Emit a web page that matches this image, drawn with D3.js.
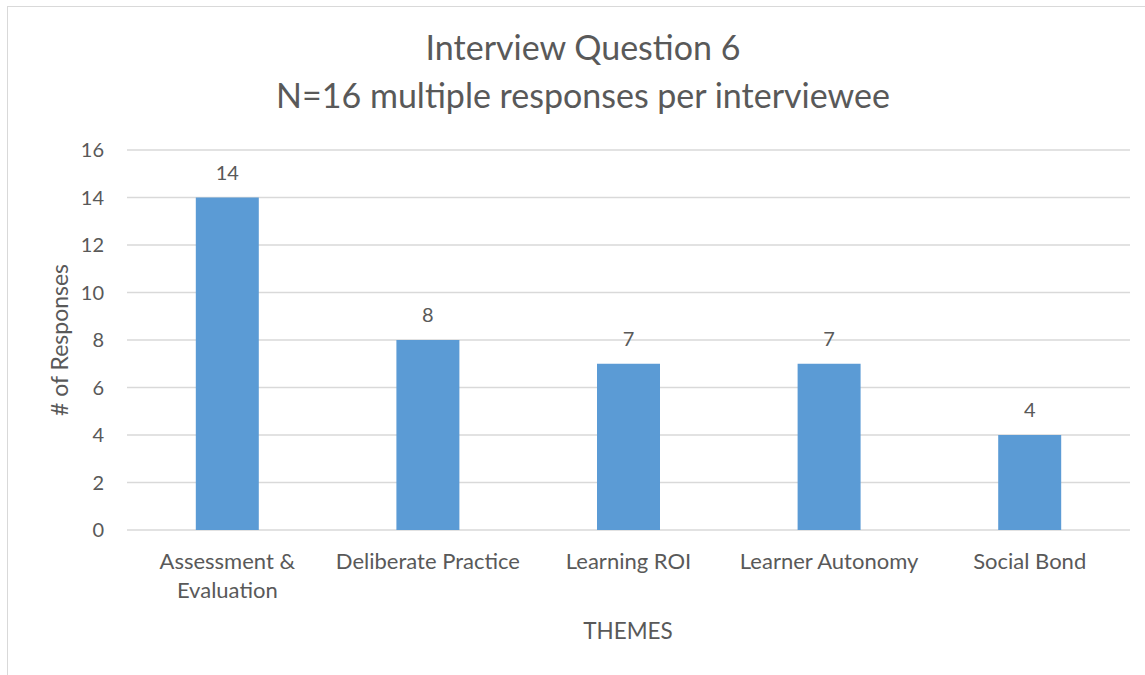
<!DOCTYPE html>
<html>
  <head>
    <meta charset="utf-8">
    <title>Interview Question 6</title>
    <style>
      body { margin: 0; background: #fff; }
      text { font-family: Lato, 'Open Sans', sans-serif; fill: #595959; }
      .grid line { stroke: #d9d9d9; stroke-width: 1.5; }
    </style>
  </head>
  <body>
    <div id="chart"></div>
    <script src="https://cdn.jsdelivr.net/npm/d3@7/dist/d3.min.js"></script>
    <script>
      // data
      var themes = [['Assessment &', 'Evaluation'], ['Deliberate Practice'], ['Learning ROI'], ['Learner Autonomy'], ['Social Bond']];
      var responses = [14, 8, 7, 7, 4];
      var yTicks = [0, 2, 4, 6, 8, 10, 12, 14, 16];
      var titleLines = ['Interview Question 6', 'N=16 multiple responses per interviewee'];

      var width = 1145, height = 675;
      var margin = {top: 150, right: 15, bottom: 145, left: 127};

      var svg = d3.select('#chart').append('svg')
        .attr('width', width)
        .attr('height', height);

      // chart border
      svg.append('rect')
        .attr('x', 7.5).attr('y', 6.5)
        .attr('width', width + 10).attr('height', height + 10)
        .attr('fill', 'none')
        .attr('stroke', '#d9d9d9');

      var x = d3.scaleBand()
        .domain(d3.range(themes.length))
        .range([margin.left, width - margin.right])
        .paddingInner(0.686)
        .paddingOuter(0.343);

      var y = d3.scaleLinear()
        .domain([0, 16])
        .range([height - margin.bottom, margin.top]);

      // gridlines
      svg.append('g').attr('class', 'grid')
        .selectAll('line')
        .data(yTicks)
        .enter().append('line')
        .attr('x1', margin.left)
        .attr('x2', width - margin.right)
        .attr('y1', function(d) { return y(d); })
        .attr('y2', function(d) { return y(d); });

      // y tick labels
      svg.append('g')
        .selectAll('text')
        .data(yTicks)
        .enter().append('text')
        .attr('x', 104)
        .attr('y', function(d) { return y(d); })
        .attr('dy', '0.36em')
        .attr('text-anchor', 'end')
        .style('font-size', '20px')
        .text(function(d) { return d; });

      // bars
      svg.append('g')
        .selectAll('rect')
        .data(responses)
        .enter().append('rect')
        .attr('x', function(d, i) { return x(i); })
        .attr('width', x.bandwidth())
        .attr('y', function(d) { return y(d); })
        .attr('height', function(d) { return y(0) - y(d); })
        .attr('fill', '#5b9bd5');

      // value labels
      svg.append('g')
        .selectAll('text')
        .data(responses)
        .enter().append('text')
        .attr('x', function(d, i) { return x(i) + x.bandwidth() / 2; })
        .attr('y', function(d) { return y(d) - 18; })
        .attr('text-anchor', 'middle')
        .style('font-size', '20px')
        .text(function(d) { return d; });

      // category labels
      var cat = svg.append('g')
        .selectAll('text')
        .data(themes)
        .enter().append('text')
        .attr('text-anchor', 'middle')
        .style('font-size', '22px')
        .attr('transform', function(d, i) {
          return 'translate(' + (x(i) + x.bandwidth() / 2) + ',569)';
        });
      cat.selectAll('tspan')
        .data(function(d) { return d; })
        .enter().append('tspan')
        .attr('x', 0)
        .attr('y', function(d, i) { return i * 29; })
        .text(function(d) { return d; });

      // title
      svg.append('g')
        .selectAll('text')
        .data(titleLines)
        .enter().append('text')
        .attr('x', 583)
        .attr('y', function(d, i) { return 60 + i * 48; })
        .attr('text-anchor', 'middle')
        .style('font-size', '34px')
        .text(function(d) { return d; });

      // axis titles
      svg.append('text')
        .attr('transform', 'translate(68,' + y(8) + ') rotate(-90)')
        .attr('text-anchor', 'middle')
        .style('font-size', '23px')
        .text('# of Responses');

      svg.append('text')
        .attr('x', 628)
        .attr('y', 639)
        .attr('text-anchor', 'middle')
        .style('font-size', '22.5px')
        .text('THEMES');
    </script>
  </body>
</html>
